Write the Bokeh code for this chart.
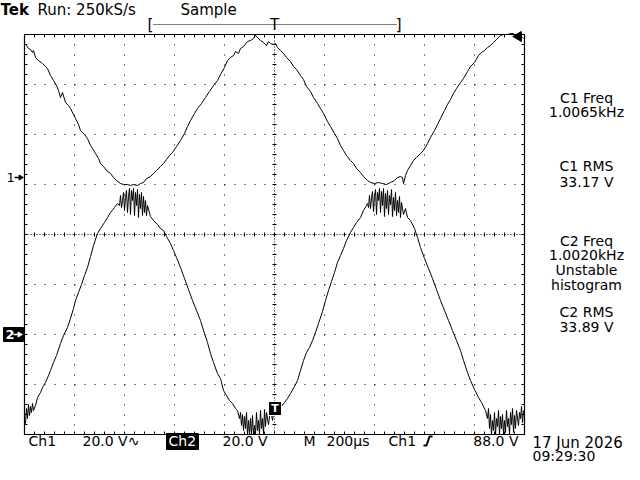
from bokeh.plotting import figure
from bokeh.models import Range1d
from bokeh.embed import file_html
from bokeh.resources import INLINE
from bokeh.core.properties import value
import math

# ---------------- data (time in µs, volts relative to each channel's ground) -------------
ch1_t = [0, 8, 16, 24, 32, 36, 44, 56, 72, 84,
         92, 104, 116, 128, 136, 144, 152, 164, 176, 184,
         196, 204, 216, 224, 240, 252, 264, 272, 284, 296,
         304, 316, 328, 344, 356, 368, 384, 396, 412, 424,
         436, 452, 464, 476, 488, 504, 516, 528, 544, 556,
         568, 580, 592, 608, 624, 640, 652, 664, 680, 692,
         708, 724, 740, 756, 772, 784, 800, 812, 824, 836,
         844, 856, 864, 876, 892, 904, 916, 924, 932, 944,
         956, 968, 976, 984, 996, 1004, 1012, 1024, 1036, 1048,
         1064, 1076, 1088, 1104, 1116, 1128, 1144, 1156, 1172, 1184,
         1196, 1212, 1224, 1240, 1252, 1264, 1276, 1288, 1304, 1316,
         1328, 1344, 1356, 1372, 1384, 1400, 1416, 1432, 1448, 1464,
         1480, 1492, 1504, 1512, 1516, 1524, 1532, 1544, 1556, 1568,
         1584, 1596, 1612, 1624, 1640, 1652, 1664, 1680, 1692, 1704,
         1716, 1728, 1744, 1756, 1772, 1784, 1800, 1816, 1828, 1840,
         1852, 1864, 1876, 1888, 1904, 1916, 1932, 1944, 1956, 1968,
         1976, 1984, 1992, 1996]
ch1_v = [53.2, 52.4, 51.2, 50.8, 49.6, 50.4, 47.6, 46.4, 45.2, 44.0,
         43.2, 40.4, 38.4, 36.4, 34.4, 31.6, 33.6, 29.6, 28.4, 27.2,
         24.8, 23.2, 20.8, 18.4, 16.8, 15.2, 12.4, 11.2, 9.2, 7.2,
         5.2, 4.0, 2.4, 1.2, -0.4, -1.6, -2.8, -3.2, -3.2, -3.6,
         -3.2, -3.6, -2.8, -2.4, -0.8, 0.0, 1.2, 2.4, 4.0, 5.2,
         6.8, 8.4, 9.6, 12.0, 14.4, 17.2, 20.0, 22.4, 25.2, 27.2,
         29.2, 31.6, 34.0, 36.4, 38.4, 40.8, 43.6, 46.4, 47.6, 48.4,
         50.0, 49.2, 51.2, 52.0, 54.0, 54.4, 55.2, 56.4, 55.6, 54.4,
         53.6, 52.4, 54.0, 53.2, 52.8, 53.2, 51.6, 50.4, 49.2, 47.6,
         46.0, 44.0, 42.8, 40.4, 38.8, 36.0, 34.0, 31.6, 29.2, 27.2,
         25.2, 22.0, 20.0, 17.2, 15.2, 12.4, 10.4, 8.4, 6.4, 5.2,
         3.2, 1.6, 0.0, -1.6, -2.4, -2.8, -2.4, -2.8, -3.2, -2.4,
         -1.6, -0.4, 0.0, -0.4, -2.8, 0.4, 2.4, 4.4, 6.4, 7.6,
         9.2, 10.4, 13.2, 15.6, 18.4, 20.8, 23.2, 26.4, 28.8, 30.8,
         33.2, 35.2, 37.6, 39.2, 42.0, 44.0, 45.6, 48.4, 49.6, 50.4,
         51.6, 52.4, 53.6, 54.8, 56.4, 56.8, 56.8, 57.2, 57.2, 56.0,
         55.2, 56.0, 55.6, 55.2]

ch2_t = [0, 4, 8, 12, 16, 20, 24, 28, 32, 36,
         44, 52, 64, 72, 84, 96, 104, 116, 128, 144,
         156, 172, 184, 196, 204, 216, 228, 240, 252, 264,
         276, 292, 304, 320, 332, 344, 360, 372, 380, 384,
         388, 392, 396, 400, 404, 408, 412, 416, 420, 424,
         428, 432, 436, 440, 444, 448, 452, 456, 460, 464,
         468, 472, 476, 480, 484, 488, 492, 504, 516, 532,
         544, 556, 568, 584, 596, 608, 624, 640, 656, 672,
         688, 704, 720, 732, 744, 756, 772, 784, 796, 808,
         820, 832, 844, 852, 860, 864, 868, 872, 876, 880,
         884, 888, 892, 896, 900, 904, 908, 912, 916, 920,
         924, 928, 932, 936, 940, 944, 948, 952, 956, 960,
         964, 968, 976, 984, 992, 1000, 1008, 1016, 1024, 1040,
         1052, 1064, 1080, 1092, 1104, 1116, 1128, 1140, 1152, 1164,
         1176, 1192, 1204, 1216, 1228, 1240, 1252, 1264, 1276, 1288,
         1304, 1316, 1328, 1344, 1356, 1368, 1372, 1376, 1380, 1384,
         1388, 1392, 1396, 1400, 1404, 1408, 1412, 1416, 1420, 1424,
         1428, 1432, 1436, 1440, 1444, 1448, 1452, 1456, 1460, 1464,
         1468, 1472, 1476, 1480, 1484, 1488, 1492, 1496, 1500, 1504,
         1508, 1516, 1524, 1532, 1544, 1560, 1572, 1584, 1600, 1616,
         1632, 1648, 1664, 1680, 1696, 1712, 1728, 1744, 1756, 1772,
         1784, 1800, 1816, 1828, 1844, 1852, 1856, 1860, 1864, 1868,
         1872, 1876, 1880, 1884, 1888, 1892, 1896, 1900, 1904, 1908,
         1912, 1916, 1920, 1924, 1928, 1932, 1936, 1940, 1944, 1948,
         1952, 1956, 1960, 1964, 1968, 1976, 1980, 1984, 1988, 1992,
         1996]
ch2_v = [-34.4, -35.6, -29.6, -33.6, -28.0, -32.4, -28.8, -31.2, -27.6, -30.4,
         -28.4, -25.2, -23.2, -21.2, -19.2, -16.4, -14.4, -11.2, -8.4, -3.6,
         -0.4, 2.8, 6.4, 10.4, 13.6, 16.8, 20.0, 23.6, 26.8, 31.2,
         35.6, 40.4, 42.4, 44.8, 46.8, 48.8, 50.8, 52.4, 51.6, 55.6,
         50.8, 53.6, 56.8, 49.6, 54.8, 57.6, 48.8, 55.2, 58.4, 48.0,
         57.6, 53.6, 58.4, 47.6, 56.8, 51.6, 58.0, 46.8, 56.0, 50.4,
         56.8, 47.6, 55.2, 48.8, 53.6, 47.6, 51.6, 47.2, 45.6, 44.0,
         42.4, 41.6, 39.2, 36.4, 33.6, 30.8, 26.8, 22.4, 18.0, 13.6,
         9.6, 5.6, 0.4, -3.2, -7.6, -11.2, -15.6, -17.6, -22.4, -24.4,
         -26.4, -27.6, -29.6, -30.4, -33.6, -31.2, -36.4, -32.0, -38.4, -32.8,
         -37.6, -31.2, -40.0, -34.4, -40.0, -33.6, -40.0, -32.4, -40.0, -36.4,
         -40.0, -31.2, -38.4, -34.4, -40.0, -30.4, -37.6, -33.6, -40.0, -30.0,
         -36.8, -31.2, -36.0, -29.6, -34.4, -28.4, -31.2, -28.0, -29.2, -27.2,
         -25.6, -23.6, -20.8, -18.4, -14.4, -10.4, -7.2, -5.2, -2.4, 0.8,
         4.4, 9.2, 13.6, 17.6, 21.2, 24.8, 28.8, 31.6, 34.4, 37.6,
         40.8, 42.8, 44.8, 46.8, 49.6, 51.6, 52.4, 50.8, 55.6, 50.4,
         54.4, 57.2, 49.2, 55.2, 58.0, 48.0, 56.8, 53.6, 58.4, 48.8,
         57.2, 51.6, 58.4, 47.2, 56.4, 50.4, 57.6, 48.0, 55.6, 52.0,
         58.0, 47.2, 54.8, 49.6, 56.8, 47.6, 53.6, 48.8, 55.2, 46.8,
         52.8, 48.0, 50.4, 46.8, 45.6, 42.4, 38.8, 34.8, 30.4, 26.4,
         22.4, 18.0, 13.6, 9.6, 5.6, 1.6, -2.4, -6.4, -10.4, -15.2,
         -18.4, -22.0, -25.2, -27.2, -30.4, -33.6, -29.6, -37.6, -32.0, -40.0,
         -34.4, -38.4, -31.2, -40.0, -33.6, -36.8, -30.4, -40.0, -32.8, -37.6,
         -32.0, -40.0, -34.4, -39.2, -30.4, -36.8, -33.6, -40.0, -31.2, -36.0,
         -29.6, -39.2, -32.4, -37.6, -30.4, -36.4, -31.2, -33.6, -28.8, -35.2,
         -30.4]

# channel ground positions (in screen volts, 20 V/div) and scope settings
ch1_ground = 23.2
ch2_ground = -40.0
US_PER_DIV = 200.0
V_PER_DIV = 20.0

status_texts = ["Ch1", "20.0 V\u223f", "20.0 V", "M", "200\u00b5s", "Ch1", "88.0 V"]
measure_texts = ["C1 Freq", "1.0065kHz", "C1 RMS", "33.17 V",
                 "C2 Freq", "1.0020kHz", "Unstable", "histogram",
                 "C2 RMS", "33.89 V"]

# ---------------- layout helpers: picture pixel -> data units ----------------
def X(px):
    return (px - 24) / 50.0 * US_PER_DIV

def Y(py):
    return (234 - py) / 50.0 * V_PER_DIV

FONT = value("DejaVu Sans")
W, H = 624, 464

p = figure(width=W, height=H, x_range=Range1d(X(0), X(W)),
           y_range=Range1d(Y(H), Y(0)), output_backend="svg",
           toolbar_location=None, x_axis_location=None, y_axis_location=None,
           min_border=0, outline_line_color=None, title=None,
           background_fill_color="white", border_fill_color="white")
p.grid.visible = False

XMAX = 10 * US_PER_DIV
YMAX = 4 * V_PER_DIV
tx = US_PER_DIV / 50.0   # µs per pixel
ty = V_PER_DIV / 50.0    # V per pixel

# graticule: dotted division lines
vx = [US_PER_DIV * k for k in range(1, 10) if k != 5]
p.multi_line(xs=[[x, x] for x in vx], ys=[[YMAX, -YMAX]] * len(vx),
             line_color="black", line_width=1, line_dash="1 9")
hy = [V_PER_DIV * k for k in (3, 2, 1, -1, -2, -3)]
p.multi_line(xs=[[0, XMAX]] * len(hy), ys=[[y, y] for y in hy],
             line_color="black", line_width=1, line_dash="1 9")
# center cross lines
p.multi_line(xs=[[XMAX / 2, XMAX / 2], [0, XMAX]], ys=[[YMAX, -YMAX], [0, 0]],
             line_color="black", line_width=1, line_dash="1 2")
cy = [-YMAX + 10 * ty * i for i in range(41)]
p.segment(x0=[XMAX / 2 - 2 * tx] * len(cy), x1=[XMAX / 2 + 2 * tx] * len(cy),
          y0=cy, y1=cy, line_color="black", line_width=1)
cx = [10 * tx * i for i in range(51)]
p.segment(x0=cx, x1=cx, y0=[-2 * ty] * len(cx), y1=[2 * ty] * len(cx),
          line_color="black", line_width=1)
# edge ticks
p.segment(x0=cx, x1=cx, y0=[YMAX] * len(cx), y1=[YMAX - 3 * ty] * len(cx), line_color="black")
p.segment(x0=cx, x1=cx, y0=[-YMAX] * len(cx), y1=[-YMAX + 3 * ty] * len(cx), line_color="black")
p.segment(x0=[0] * len(cy), x1=[3 * tx] * len(cy), y0=cy, y1=cy, line_color="black")
p.segment(x0=[XMAX] * len(cy), x1=[XMAX - 3 * tx] * len(cy), y0=cy, y1=cy, line_color="black")
# border
p.quad(left=[0], right=[XMAX], bottom=[-YMAX], top=[YMAX], fill_color=None,
       line_color="black", line_width=1.2)

# waveforms
p.line(x=ch1_t, y=[ch1_ground + v for v in ch1_v], line_color="black", line_width=1)
p.line(x=ch2_t, y=[ch2_ground + v for v in ch2_v], line_color="black", line_width=1)


def txt(px, py, s, size="14px", align="left", baseline="middle",
        color="black", style="normal"):
    p.text(x=[X(px)], y=[Y(py)], text=[s], text_font=FONT, text_font_size=size,
           text_align=align, text_baseline=baseline, text_color=color,
           text_font_style=style)

# top line
txt(0, 9.5, "Tek", size="15px", style="bold")
txt(37, 9.5, "Run: 250kS/s", size="15px")
txt(180, 9.5, "Sample", size="15px")
# record bracket
txt(147, 24, "[", size="15px")
txt(401, 24, "]", size="15px", align="right")
txt(274, 24, "T", size="15px", align="center")
p.line(x=[X(153), X(396)], y=[Y(24), Y(24)], line_color="black", line_dash="1 1")

# trigger level arrow (right top)
p.scatter(x=[X(518)], y=[Y(36)], marker="triangle", size=10, angle=math.pi / 2,
          color="black")

# channel ground markers
txt(6, 177, "1", size="13px")
p.line(x=[X(14), X(20)], y=[Y(177), Y(177)], line_color="black", line_width=1.5)
p.scatter(x=[X(20)], y=[Y(177)], marker="triangle", size=5, angle=-math.pi / 2, color="black")
p.quad(left=[X(3)], right=[X(23)], top=[Y(327)], bottom=[Y(341)], color="black")
txt(5, 334, "2", size="13px", color="white", style="bold")
p.line(x=[X(13), X(19)], y=[Y(334), Y(334)], line_color="white", line_width=1.5)
p.scatter(x=[X(19)], y=[Y(334)], marker="triangle", size=5, angle=-math.pi / 2, color="white")

# trigger position marker at bottom
p.quad(left=[X(268)], right=[X(281)], top=[Y(401)], bottom=[Y(415)], fill_color="black",
       line_color="white", line_width=1)
txt(274.5, 408, "T", size="11px", align="center", color="white", style="bold")

# status line
sb = 440
txt(28, sb, status_texts[0])
txt(82, sb, status_texts[1])
p.quad(left=[X(166)], right=[X(198)], top=[Y(433)], bottom=[Y(449)], color="black")
txt(168, sb, "Ch2", color="white")
txt(222, sb, status_texts[2])
txt(303, sb, status_texts[3])
txt(326, sb, status_texts[4])
txt(388, sb, status_texts[5])
p.line(x=[X(423), X(426), X(429), X(432)], y=[Y(445), Y(445), Y(436), Y(436)],
       line_color="black", line_width=2)
txt(518, sb, status_texts[6], align="right")

# date / time
txt(532, 442, "17 Jun 2026", size="15px")
txt(532, 455, "09:29:30", size="14px")

# measurement panel
meas_y = [97, 111, 165, 181, 240, 254, 269, 284, 311, 326]
for s, yy in zip(measure_texts, meas_y):
    txt(586, yy, s, size="14px", align="center")

open("out.html", "w").write(file_html(p, INLINE))
